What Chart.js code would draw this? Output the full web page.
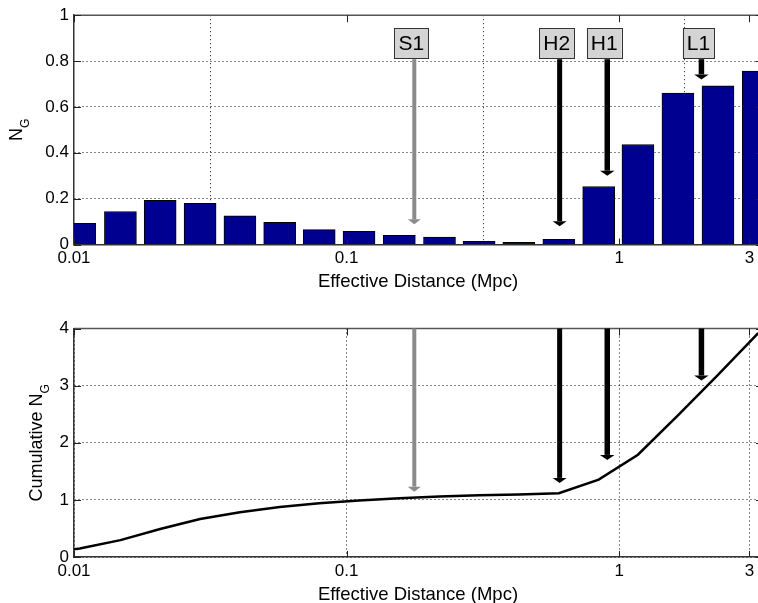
<!DOCTYPE html>
<html>
<head>
<meta charset="utf-8">
<script src="https://cdn.jsdelivr.net/npm/chart.js@4.4.1/dist/chart.umd.min.js"></script>
<style>
  html, body { margin: 0; padding: 0; background: #fff; overflow: hidden; }
  #wrap { position: relative; width: 758px; height: 603px; overflow: hidden; }
  canvas { position: absolute; left: 0; }
  #ngChart { top: 0; }
  #cumChart { top: 300px; }
</style>
</head>
<body>
<div id="wrap">
  <canvas id="ngChart" width="770" height="300"></canvas>
  <canvas id="cumChart" width="770" height="303"></canvas>
</div>
<script>
// bin centres in Mpc (log spaced); first bin sits just below 0.01
const distances = [0.00753, 0.0105, 0.0148, 0.0207, 0.0290, 0.0406, 0.0568, 0.0793, 0.111, 0.156,
                   0.219, 0.306, 0.428, 0.600, 0.840, 1.17, 1.64, 2.30, 3.23];
const ngValues = [0.055, 0.092, 0.144, 0.193, 0.180, 0.125, 0.097, 0.065, 0.057, 0.040,
                  0.032, 0.014, 0.009, 0.023, 0.253, 0.436, 0.660, 0.692, 0.756];
const cumulativeNg = [0.055, 0.15, 0.295, 0.49, 0.665, 0.785, 0.875, 0.94, 0.99, 1.03,
                      1.06, 1.08, 1.095, 1.115, 1.355, 1.79, 2.48, 3.19, 3.92];
const xTicks = [0.01, 0.1, 1, 3];
const xMin = 0.01, xMax = 3.45;

// detector range markers
const detectors = ['S1', 'H2', 'H1', 'L1'];
const detectorRange = [0.177, 0.604, 0.903, 2.0];
const ngArrowTips = [0.088, 0.080, 0.30, 0.72];
const cumArrowTips = [1.144, 1.297, 1.70, 3.09];

const FONT = '"Liberation Sans", Arial, Helvetica, sans-serif';
const arrowStyle = {
  S1: { color: '#8a8a8a', width: 4 },
  H2: { color: '#000', width: 5 },
  H1: { color: '#000', width: 5.5 },
  L1: { color: '#000', width: 5.5 }
};

function drawArrow(ctx, x, y0, y1, color, w) {
  const headH = 5, headW = w + 9;
  ctx.fillStyle = color;
  ctx.fillRect(x - w / 2, y0, w, y1 - headH - y0);
  ctx.beginPath();
  ctx.moveTo(x - headW / 2, y1 - headH);
  ctx.lineTo(x + headW / 2, y1 - headH);
  ctx.lineTo(x, y1);
  ctx.closePath();
  ctx.fill();
}

function drawYTitle(ctx, text, sub, x, cy, subShift) {
  ctx.save();
  ctx.translate(x, cy);
  ctx.rotate(-Math.PI / 2);
  ctx.font = `18px ${FONT}`;
  const w1 = ctx.measureText(text).width;
  ctx.font = `12px ${FONT}`;
  const w2 = ctx.measureText(sub).width;
  const start = -(w1 + w2) / 2;
  ctx.fillStyle = '#000';
  ctx.textAlign = 'left';
  ctx.textBaseline = 'alphabetic';
  ctx.font = `18px ${FONT}`;
  ctx.fillText(text, start, 0);
  ctx.font = `12px ${FONT}`;
  ctx.fillText(sub, start + w1, subShift);
  ctx.restore();
}

// frame, inward ticks, axis titles and marker arrows
const decorations = {
  id: 'decorations',
  afterDraw(chart, args, opts) {
    const { ctx, chartArea: a, scales: { x, y } } = chart;
    ctx.save();

    ctx.strokeStyle = '#555';
    ctx.lineWidth = 1.5;
    ctx.beginPath();
    ctx.moveTo(a.left, a.top);
    ctx.lineTo(a.right + 2, a.top);
    ctx.stroke();

    ctx.strokeStyle = '#222';
    ctx.lineWidth = 1;
    ctx.beginPath();
    y.ticks.forEach(t => {
      const py = Math.round(y.getPixelForValue(t.value)) + 0.5;
      ctx.moveTo(a.left, py); ctx.lineTo(a.left + 7, py);
      ctx.moveTo(a.right, py); ctx.lineTo(a.right - 10, py);
    });
    x.ticks.forEach(t => {
      const px = Math.round(x.getPixelForValue(t.value)) + 0.5;
      ctx.moveTo(px, a.top); ctx.lineTo(px, a.top + 7);
      ctx.moveTo(px, a.bottom); ctx.lineTo(px, a.bottom - 6);
    });
    ctx.stroke();

    // axis titles
    ctx.fillStyle = '#000';
    ctx.font = `18.5px ${FONT}`;
    ctx.textAlign = 'center';
    ctx.textBaseline = 'alphabetic';
    ctx.fillText('Effective Distance (Mpc)', 418, opts.xTitleBaseline);
    drawYTitle(ctx, opts.yTitle, 'G', opts.yTitleX, (a.top + a.bottom) / 2, 7);

    // arrows
    detectors.forEach((name, i) => {
      const st = arrowStyle[name];
      const px = x.getPixelForValue(detectorRange[i]);
      const tip = y.getPixelForValue(opts.tips[i]);
      let start = a.top;
      if (opts.labels) {
        ctx.font = `21px ${FONT}`;
        const bw = ctx.measureText(name).width + 8, bh = 30;
        const bx = px - 3 - bw / 2, by = a.top + 13;
        ctx.fillStyle = '#d4d4d4';
        ctx.fillRect(bx, by, bw, bh);
        ctx.strokeStyle = '#333';
        ctx.lineWidth = 1;
        ctx.strokeRect(Math.round(bx) + 0.5, Math.round(by) + 0.5, Math.round(bw), bh);
        ctx.fillStyle = '#000';
        ctx.textAlign = 'center';
        ctx.textBaseline = 'middle';
        ctx.fillText(name, bx + bw / 2, by + bh / 2 + 1);
        start = by + bh + 1;
      }
      drawArrow(ctx, px, start, tip, st.color, st.width);
    });
    ctx.restore();
  }
};

function xScale(axisHeight) {
  return {
    type: 'logarithmic',
    min: xMin,
    max: xMax,
    afterBuildTicks: s => { s.ticks = xTicks.map(v => ({ value: v })); },
    afterFit: s => { s.height = axisHeight; },
    ticks: {
      autoSkip: false, maxRotation: 0, padding: 4, color: '#000',
      font: { family: FONT, size: 17 },
      callback: v => String(v)
    },
    grid: { color: '#111', lineWidth: 1, drawTicks: false },
    border: { display: true, color: '#333', width: 1.5, dash: [1, 3] }
  };
}

function yScale(max, step) {
  return {
    min: 0,
    max: max,
    afterFit: s => { s.width = 74; },
    ticks: {
      stepSize: step, padding: 5, color: '#000',
      font: { family: FONT, size: 17 },
      callback: v => String(Math.round(v * 10) / 10)
    },
    grid: { color: '#111', lineWidth: 1, drawTicks: false },
    border: { display: true, color: '#333', width: 1.5, dash: [1, 3] }
  };
}

new Chart(document.getElementById('ngChart'), {
  type: 'bar',
  data: {
    datasets: [{
      data: distances.map((d, i) => ({ x: d, y: ngValues[i] })),
      backgroundColor: '#000090',
      borderColor: '#000',
      borderWidth: 1,
      barThickness: 32,
      clip: 0
    }]
  },
  options: {
    responsive: false,
    animation: false,
    layout: { padding: { top: 14.5, right: 4, left: 0, bottom: 0 } },
    scales: { x: xScale(55.5), y: yScale(1, 0.2) },
    plugins: {
      legend: { display: false },
      tooltip: { enabled: false },
      decorations: { yTitle: 'N', yTitleX: 22, xTitleBaseline: 287, tips: ngArrowTips, labels: true }
    }
  },
  plugins: [decorations]
});

new Chart(document.getElementById('cumChart'), {
  type: 'line',
  data: {
    datasets: [{
      data: distances.map((d, i) => ({ x: d, y: cumulativeNg[i] })),
      borderColor: '#000',
      borderWidth: 2.5,
      pointRadius: 0,
      tension: 0,
      clip: 0
    }]
  },
  options: {
    responsive: false,
    animation: false,
    layout: { padding: { top: 28.5, right: 4, left: 0, bottom: 0 } },
    scales: { x: xScale(46), y: yScale(4, 1) },
    plugins: {
      legend: { display: false },
      tooltip: { enabled: false },
      decorations: { yTitle: 'Cumulative N', yTitleX: 42, xTitleBaseline: 299.5, tips: cumArrowTips, labels: false }
    }
  },
  plugins: [decorations]
});
</script>
</body>
</html>
